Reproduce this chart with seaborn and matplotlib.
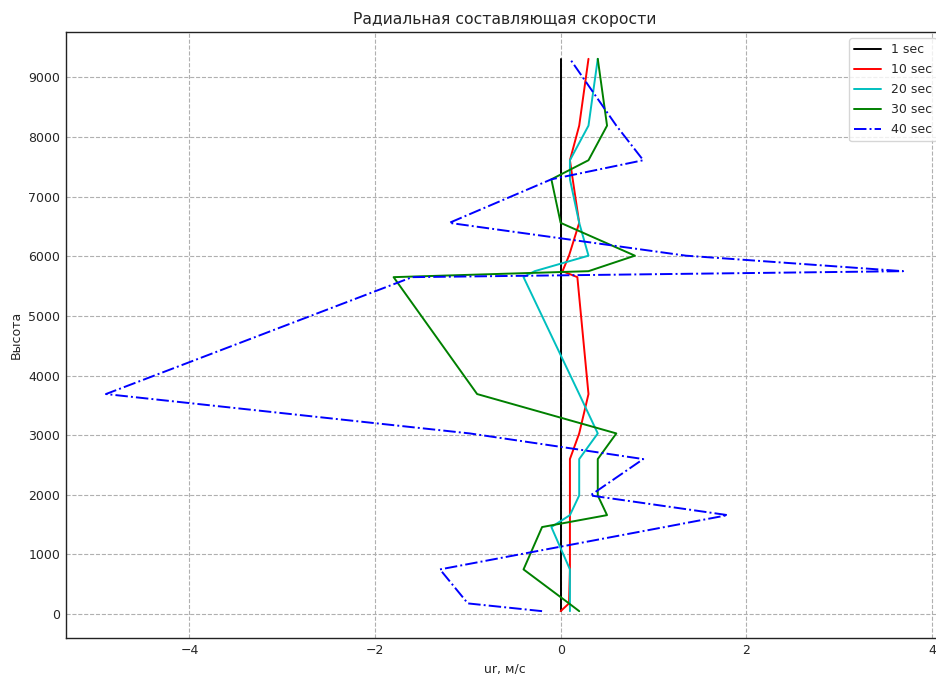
import numpy as np
import pandas as pd
import matplotlib
matplotlib.use("Agg")
import matplotlib.pyplot as plt
import seaborn as sns

heights = [50, 180, 750, 1460, 1660, 1990, 2600, 3030, 3690, 5650, 5750, 6010, 6560, 7290, 7610, 8190, 9310]
v_1 = [0.0] * 17
v_10 = [0.0, 0.09, 0.1, 0.1, 0.1, 0.1, 0.1, 0.2, 0.3, 0.18, 0.02, 0.09, 0.2, 0.13, 0.1, 0.2, 0.3]
v_20 = [0.1, 0.1, 0.1, -0.1, 0.1, 0.2, 0.2, 0.4, 0.2, -0.4, -0.28, 0.3, 0.2, 0.1, 0.1, 0.3, 0.4]
v_30 = [0.2, 0.09, -0.4, -0.2, 0.5, 0.4, 0.4, 0.6, -0.9, -1.8, 0.3, 0.8, 0.0, -0.1, 0.3, 0.5, 0.4]
v_40 = [-0.2, -1.0, -1.3, 1.12, 1.8, 0.32, 0.89, -0.98, -4.9, -1.6, 3.69, 1.35, -1.2, -0.1, 0.89, 0.6, 0.1]

labels = ["1 sec", "10 sec", "20 sec", "30 sec", "40 sec"]
series = [v_1, v_10, v_20, v_30, v_40]
colors = ["black", "red", "c", "green", "blue"]
styles = ["-", "-", "-", "-", "-."]

sns.set_style("whitegrid", {
    "grid.linestyle": "--",
    "grid.color": "#b0b0b0",
    "axes.edgecolor": "#222222",
    "xtick.direction": "in",
    "ytick.direction": "in",
})
plt.rcParams["font.family"] = ["DejaVu Sans"]

fig = plt.figure(figsize=(9.37, 6.74), dpi=100)
# axes extends slightly past the right edge of the figure, as in the reference
ax = fig.add_axes([66 / 937, 1 - 638 / 674, 877 / 937, 606 / 674])

for lab, vals, col, ls in zip(labels, series, colors, styles):
    df = pd.DataFrame({"v": vals, "h": heights})
    sns.lineplot(data=df, x="v", y="h", sort=False, estimator=None, color=col,
                 linestyle=ls, linewidth=1.4, label=lab, ax=ax)

ax.set_xlim(-5.33, 4.12)
ax.set_ylim(-400, 9760)
ax.set_xticks([-4, -2, 0, 2, 4])
ax.set_yticks(range(0, 10000, 1000))
ax.tick_params(axis="both", labelsize=9, length=4, width=0.8, color="#222222", pad=4)
for s in ax.spines.values():
    s.set_linewidth(1.0)
ax.grid(True, linestyle="--", color="#b0b0b0", linewidth=0.8)
ax.set_xlabel("ur, м/с", fontsize=9, labelpad=4)
ax.set_ylabel("Высота", fontsize=9, labelpad=4)
ax.set_title("Радиальная составляющая скорости", fontsize=11.25, pad=6)
leg = ax.legend(loc="upper right", fontsize=9, frameon=True, labelspacing=0.56,
                handlelength=2.1)
leg.get_frame().set_edgecolor("#cccccc")

fig.savefig("out.png", dpi=100)
